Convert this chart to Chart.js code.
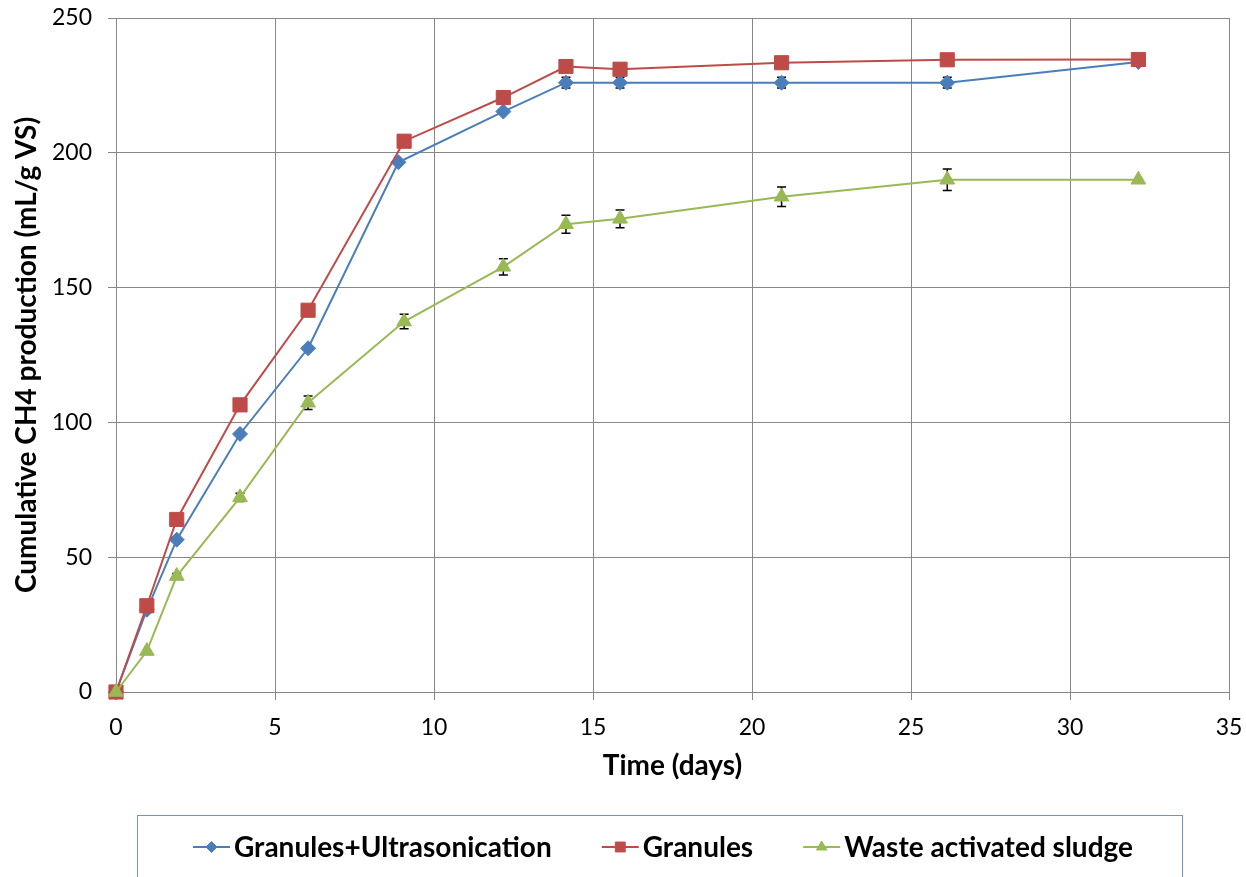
<!DOCTYPE html>
<html>
<head>
<meta charset="utf-8">
<script src="https://cdn.jsdelivr.net/npm/chart.js@4.4.1/dist/chart.umd.min.js"></script>
<style>
  html, body { margin: 0; padding: 0; background: #ffffff; }
  #wrap { width: 1246px; height: 877px; }
</style>
</head>
<body>
<div id="wrap"><canvas id="c" width="1246" height="877"></canvas></div>
<script>
// Series names
const seriesNames = ['Granules+Ultrasonication', 'Granules', 'Waste activated sludge'];

// Sampling days for each series
const daysUltrasonication = [0, 0.97, 1.91, 3.9, 6.04, 8.88, 12.18, 14.15, 15.85, 20.93, 26.14, 32.15];
const daysGranules        = [0, 0.97, 1.91, 3.9, 6.04, 9.06, 12.18, 14.15, 15.85, 20.93, 26.14, 32.15];
const daysSludge          = [0, 0.97, 1.91, 3.9, 6.04, 9.06, 12.18, 14.15, 15.85, 20.93, 26.14, 32.15];

// Cumulative CH4 production (mL/g VS)
const ch4Ultrasonication = [0, 30.5, 56.5, 95.7, 127.5, 196.5, 215.3, 226, 226, 226, 226, 233.7];
const ch4Granules        = [0, 32, 64, 106.5, 141.6, 204.3, 220.5, 232, 231, 233.4, 234.5, 234.6];
const ch4Sludge          = [0, 15.2, 43, 72.2, 107.3, 137.4, 157.7, 173.5, 175.5, 183.7, 190, 190];

// Standard deviations (error bars)
const errUltrasonication = [0, 0, 0, 0, 0, 0, 0, 2, 2, 2, 2, 0];
const errSludge          = [0, 0, 1, 1.5, 2.5, 2.7, 3, 3.3, 3.3, 3.6, 4, 0];

// Axis ticks
const xTicks = [0, 5, 10, 15, 20, 25, 30, 35];
const yTicks = [0, 50, 100, 150, 200, 250];

const colors = ['#4A7EBB', '#BE4B48', '#98B954'];
const markerStyles = ['rectRot', 'rect', 'triangle'];
const markerRadii = [7.5, 10, 8.5];
const legendRadii = [5.5, 7, 6];

const FONT = 'Lato, "Open Sans", "DejaVu Sans", sans-serif';
const GRID = '#878787';

function toPoints(xs, ys) {
  return xs.map((x, i) => ({ x: x, y: ys[i] }));
}

// Vertical error bars with caps, drawn beneath the markers
const errorBarPlugin = {
  id: 'errorBars',
  beforeDatasetsDraw(chart) {
    const ctx = chart.ctx;
    const xs = chart.scales.x, ys = chart.scales.y;
    const sets = [
      { days: daysUltrasonication, vals: ch4Ultrasonication, errs: errUltrasonication },
      { days: daysSludge, vals: ch4Sludge, errs: errSludge }
    ];
    ctx.save();
    ctx.strokeStyle = '#000000';
    ctx.lineWidth = 1.5;
    sets.forEach(s => {
      s.days.forEach((d, i) => {
        const e = s.errs[i];
        if (!e) return;
        const px = xs.getPixelForValue(d);
        const top = ys.getPixelForValue(s.vals[i] + e);
        const bot = ys.getPixelForValue(s.vals[i] - e);
        ctx.beginPath();
        ctx.moveTo(px, top); ctx.lineTo(px, bot);
        ctx.moveTo(px - 4.5, top); ctx.lineTo(px + 4.5, top);
        ctx.moveTo(px - 4.5, bot); ctx.lineTo(px + 4.5, bot);
        ctx.stroke();
      });
    });
    ctx.restore();
  }
};

function drawMarker(ctx, style, r, x, y, color) {
  ctx.save();
  ctx.fillStyle = color;
  ctx.strokeStyle = color;
  ctx.lineWidth = 1;
  if (Chart.helpers && Chart.helpers.drawPoint) {
    Chart.helpers.drawPoint(ctx, { pointStyle: style, radius: r, rotation: 0, borderWidth: 1 }, x, y);
  }
  ctx.restore();
}

// Boxed legend below the plot: line + marker, then bold label
const boxedLegendPlugin = {
  id: 'boxedLegend',
  afterDraw(chart) {
    const ctx = chart.ctx;
    const box = { left: 137.5, top: 815.5, right: 1182.5, bottom: 900 };
    ctx.save();
    ctx.strokeStyle = '#6F93C8';
    ctx.lineWidth = 1;
    ctx.strokeRect(box.left, box.top, box.right - box.left, box.bottom - box.top);

    ctx.font = 'bold 28px ' + FONT;
    ctx.textBaseline = 'middle';
    ctx.textAlign = 'left';
    const iconW = 37, gap = 4, span = 940;
    const widths = chart.data.datasets.map(ds => ctx.measureText(ds.label).width);
    const used = widths.reduce((a, b) => a + b, 0) + 3 * (iconW + gap);
    const itemGap = Math.max(20, (span - used) / 2);
    const total = used + 2 * itemGap;
    let x = (box.left + box.right) / 2 + 3 - total / 2;
    const cy = 847;
    chart.data.datasets.forEach((ds, i) => {
      ctx.strokeStyle = colors[i];
      ctx.lineWidth = 2;
      ctx.beginPath();
      ctx.moveTo(x, cy); ctx.lineTo(x + iconW, cy);
      ctx.stroke();
      drawMarker(ctx, markerStyles[i], legendRadii[i], x + iconW / 2, cy, colors[i]);
      ctx.fillStyle = '#000000';
      ctx.fillText(ds.label, x + iconW + gap, cy + 1);
      x += iconW + gap + widths[i] + itemGap;
    });
    ctx.restore();
  }
};

const seriesDays = [daysUltrasonication, daysGranules, daysSludge];
const seriesVals = [ch4Ultrasonication, ch4Granules, ch4Sludge];

const datasets = seriesNames.map((name, i) => ({
  label: name,
  data: toPoints(seriesDays[i], seriesVals[i]),
  borderColor: colors[i],
  backgroundColor: colors[i],
  borderWidth: 2,
  pointStyle: markerStyles[i],
  pointRadius: markerRadii[i],
  pointHoverRadius: markerRadii[i],
  pointBorderWidth: 1,
  pointBackgroundColor: colors[i],
  pointBorderColor: colors[i],
  tension: 0,
  fill: false,
  clip: false,
  order: 2 - i
}));

new Chart(document.getElementById('c'), {
  type: 'line',
  data: { datasets: datasets },
  options: {
    responsive: false,
    devicePixelRatio: 1,
    animation: false,
    layout: { padding: { top: 18, right: 17, bottom: 85, left: 0 } },
    plugins: {
      legend: { display: false },
      tooltip: { enabled: false }
    },
    scales: {
      x: {
        type: 'linear',
        min: xTicks[0],
        max: xTicks[xTicks.length - 1],
        afterBuildTicks(scale) { scale.ticks = xTicks.map(v => ({ value: v })); },
        afterFit(scale) {
          scale.height = 100;
          scale.paddingLeft = 0;
          scale.paddingRight = 0;
        },
        ticks: {
          color: '#000000',
          font: { family: FONT, size: 23 },
          padding: 14,
          maxRotation: 0
        },
        grid: { color: GRID, lineWidth: 1, tickLength: 8, tickColor: GRID },
        border: { color: GRID, width: 1 },
        title: {
          display: true,
          text: 'Time (days)',
          color: '#000000',
          font: { family: FONT, size: 28, weight: 'bold' },
          padding: { top: 0, bottom: 9 }
        }
      },
      y: {
        type: 'linear',
        min: yTicks[0],
        max: yTicks[yTicks.length - 1],
        afterBuildTicks(scale) { scale.ticks = yTicks.map(v => ({ value: v })); },
        afterFit(scale) {
          scale.width = 116;
          scale.paddingTop = 0;
          scale.paddingBottom = 0;
        },
        ticks: {
          color: '#000000',
          font: { family: FONT, size: 23 },
          padding: 16
        },
        grid: { color: GRID, lineWidth: 1, tickLength: 8, tickColor: GRID },
        border: { color: GRID, width: 1 },
        title: {
          display: true,
          text: 'Cumulative CH4 production (mL/g VS)',
          color: '#000000',
          font: { family: FONT, size: 28, weight: 'bold' },
          padding: { top: 10, bottom: 0 }
        }
      }
    }
  },
  plugins: [errorBarPlugin, boxedLegendPlugin]
});
</script>
</body>
</html>
